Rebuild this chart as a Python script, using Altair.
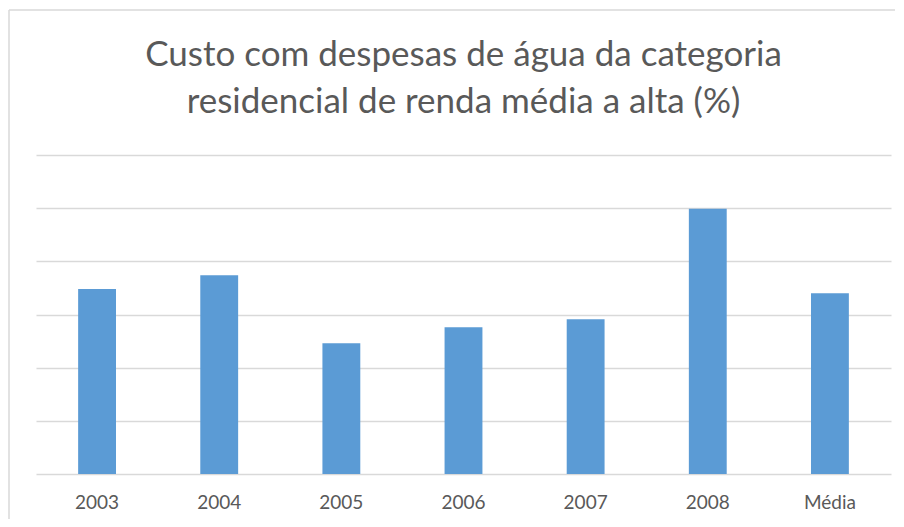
import altair as alt
import pandas as pd

categories = ["2003", "2004", "2005", "2006", "2007", "2008", "Média"]
values = [3.48, 3.74, 2.46, 2.76, 2.91, 4.99, 3.40]

df = pd.DataFrame({"cat": categories, "val": values})

bars = alt.Chart(df).mark_bar(color="#5b9bd5").encode(
    x=alt.X("cat:N", sort=categories, title=None,
            scale=alt.Scale(paddingInner=0.69, paddingOuter=0.345),
            axis=alt.Axis(labelAngle=0, domain=False, ticks=False, labelPadding=19,
                          labelFontSize=19, labelColor="#595959", labelFont="Lato")),
    y=alt.Y("val:Q", title=None, scale=alt.Scale(domain=[0, 6], nice=False),
            axis=alt.Axis(values=[0, 1, 2, 3, 4, 5, 6], labels=False, domain=False, ticks=False,
                          grid=True, gridColor="#d9d9d9", gridWidth=1.3)),
)

frame_src = pd.DataFrame({"k": [0]})
left_edge = alt.Chart(frame_src).mark_rule(color="#d9d9d9", strokeWidth=1.5).encode(
    x=alt.value(-27), y=alt.value(-145), y2=alt.value(364))
top_edge = alt.Chart(frame_src).mark_rule(color="#d9d9d9", strokeWidth=1.5).encode(
    x=alt.value(-27), x2=alt.value(859), y=alt.value(-145))

chart = alt.layer(bars, left_edge, top_edge).properties(
    width=855,
    height=319,
    title=alt.TitleParams(
        text=["Custo com despesas de água da categoria", "residencial de renda média a alta (%)"],
        fontSize=35, font="Lato", fontWeight="normal", color="#595959",
        anchor="middle", frame="group", offset=-111, lineHeight=47,
    ),
    autosize=alt.AutoSizeParams(type="none"),
    padding={"left": 28, "top": 147, "right": 5, "bottom": 45},
).configure_view(stroke=None)

chart.save("out.html", embed_options={"renderer": "svg", "actions": False})
